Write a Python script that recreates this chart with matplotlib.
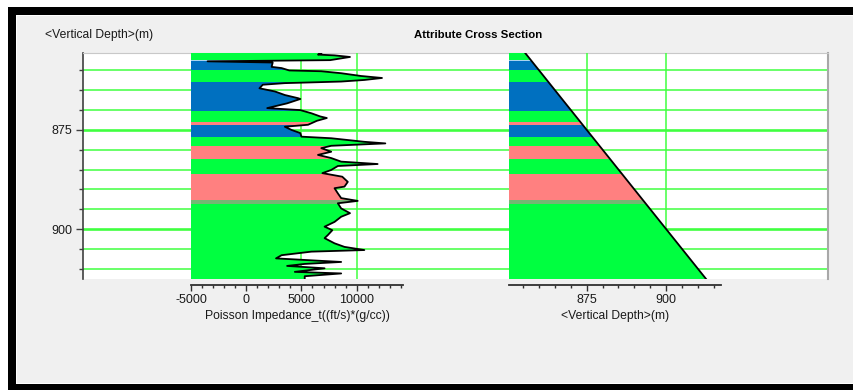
import numpy as np
import matplotlib
matplotlib.use("Agg")
import matplotlib.pyplot as plt
from matplotlib.patches import Rectangle
from matplotlib.ticker import MultipleLocator

plt.rcParams['font.family'] = ['Liberation Sans', 'DejaVu Sans']
plt.rcParams['axes.unicode_minus'] = False

# well log samples: depth (m) and poisson impedance
depth_m = [855.6, 856.0, 856.2, 856.6, 857.4, 857.7, 858.0, 859.1, 859.4, 860.0,
           860.2, 860.7, 861.4, 861.9, 862.4, 862.8, 863.2, 863.6, 864.5, 865.3,
           866.2, 867.0, 867.2, 868.3, 869.5, 870.0, 870.8, 871.6, 872.0, 872.7,
           873.7, 874.2, 875.0, 875.8, 876.7, 877.1, 878.0, 878.4, 879.0, 879.6,
           880.5, 881.3, 882.1, 883.0, 883.6, 884.1, 885.1, 885.9, 886.8, 888.1,
           889.3, 889.7, 891.0, 892.2, 892.9, 893.5, 894.8, 896.0, 896.9, 898.2,
           899.4, 900.3, 901.5, 902.3, 903.6, 904.5, 905.3, 905.7, 906.6, 907.4,
           908.3, 908.8, 909.3, 909.9, 910.8, 911.2, 911.9, 912.6]
impedance = [6800, 6500, 8000, 9400, 7600, -3500, 2400, 2300, 3200, 3900,
             6800, 8600, 10400, 12300, 10700, 8600, 3500, 1500, 1200, 2600,
             3500, 4700, 4900, 3700, 1900, 4900, 5900, 6700, 7300, 6400,
             5600, 3500, 4100, 4900, 5000, 7700, 10700, 12600, 7700, 6800,
             7700, 6500, 7700, 8600, 11900, 8300, 7700, 6900, 8700, 9200,
             8900, 8000, 8300, 8600, 10100, 8300, 8600, 9400, 8600, 8000,
             7100, 7800, 7400, 7100, 8000, 8900, 10700, 5900, 3200, 2700,
             8600, 5300, 3700, 7100, 4400, 8600, 5300, 5300]

# facies intervals (top depth of each zone, last base = bottom of log)
facies_top = [855.6, 857.4, 857.7, 860.0, 863.0, 870.2, 872.9, 873.7, 876.9,
              879.0, 882.4, 886.2, 892.7, 893.6]
facies_base = facies_top[1:] + [912.6]
facies = ['sand', 'thin', 'shale', 'sand', 'shale', 'sand', 'carb', 'shale',
          'sand', 'carb', 'sand', 'carb', 'mix', 'sand']
facies_color = {'sand': '#00ff40', 'shale': '#0070c0', 'carb': '#ff8080',
                'thin': '#a8d4f0', 'mix': '#74b874'}

grid_green = '#40ff40'
txt = '#1a1a1a'

W, H = 854, 390
fig = plt.figure(figsize=(W / 100, H / 100), dpi=100, facecolor='white')


def box(x0, y0, x1, y1):
    # pixel box (top-left origin) -> figure fraction rect
    return [x0 / W, 1 - y1 / H, (x1 - x0) / W, (y1 - y0) / H]


# window frame
for (x0, y0, x1, y1), c in [((8, 6.5, 860, 390), 'black'),
                            ((16, 14.5, 860, 383.5), 'white'),
                            ((17, 15.5, 860, 382.5), '#f0f0f0')]:
    l, b, w, h = box(x0, y0, x1, y1)
    fig.patches.append(Rectangle((l, b), w, h, transform=fig.transFigure,
                                 facecolor=c, edgecolor='none', zorder=-5))

ylim = (912.6, 855.6)

# background panel with depth axis and horizontal grid
ax = fig.add_axes(box(83, 53, 828, 279))
ax.set_facecolor('white')
ax.set_ylim(*ylim)
ax.set_xticks([])
ax.yaxis.set_major_locator(MultipleLocator(25))
ax.yaxis.set_minor_locator(MultipleLocator(5))
ax.grid(which='minor', axis='y', color=grid_green, lw=1.1)
ax.grid(which='major', axis='y', color=grid_green, lw=1.9)
ax.tick_params(axis='y', which='major', length=5, width=1, pad=2.5,
               labelsize=9, labelcolor=txt, color='#404040')
ax.tick_params(axis='y', which='minor', length=3, width=1, color='#404040')
ax.spines['bottom'].set_visible(False)
ax.spines['left'].set_color('#404040')
ax.spines['left'].set_linewidth(1.2)
ax.spines['top'].set_color('#c8c8c8')
ax.spines['right'].set_color('#a8a8a8')
ax.spines['right'].set_linewidth(1.5)
ax.set_axisbelow(True)


def track(rect, xlim, values, major, minor, gridx, label):
    t = fig.add_axes(rect)
    t.patch.set_alpha(0)
    t.set_xlim(*xlim)
    t.set_ylim(*ylim)
    t.set_yticks([])
    for s in ['left', 'right', 'top']:
        t.spines[s].set_visible(False)
    t.spines['bottom'].set_position(('outward', 4.5))
    t.spines['bottom'].set_color('#303030')
    t.spines['bottom'].set_linewidth(1.3)
    t.xaxis.set_major_locator(MultipleLocator(major))
    t.xaxis.set_minor_locator(MultipleLocator(minor))
    t.tick_params(axis='x', which='major', length=4, width=1, pad=2,
                  labelsize=9, labelcolor=txt, color='#303030')
    t.tick_params(axis='x', which='minor', length=2.5, width=1, color='#303030')
    t.set_xlabel(label, fontsize=8.7, color=txt, labelpad=3)
    for v in gridx:
        t.axvline(v, color=grid_green, lw=1.1, zorder=0)
    # fill area between left edge and curve, coloured by facies
    area = t.fill_betweenx(depth_m, xlim[0], values, facecolor='none',
                           edgecolor='none')
    clip = area.get_paths()[0]
    for top, base, f in zip(facies_top, facies_base, facies):
        band = t.axhspan(top, base, color=facies_color[f], lw=0, zorder=1)
        band.set_clip_path(clip, t.transData)
    t.plot(values, depth_m, color='black', lw=1.3, zorder=2)
    return t


ax1 = track(box(191, 53, 403, 279), (-5000, 14200), impedance, 5000, 1000,
            [5000, 10000], 'Poisson Impedance_t((ft/s)*(g/cc))')
ax2 = track(box(509, 53, 720.7, 279), (850.5, 917.2), depth_m, 25, 5,
            [875, 900], '<Vertical Depth>(m)')

fig.text(45 / W, 1 - 35 / H, '<Vertical Depth>(m)', fontsize=8.7, color=txt,
         ha='left', va='center')
fig.text(478 / W, 1 - 35 / H, 'Attribute Cross Section', fontsize=8.2,
         fontweight='bold', color='black', ha='center', va='center')

fig.savefig('out.png', dpi=100, facecolor=fig.get_facecolor())
